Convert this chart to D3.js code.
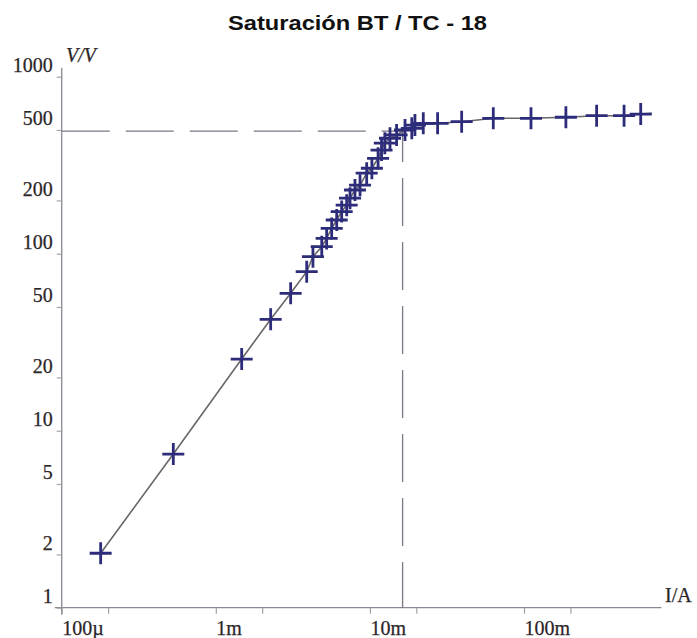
<!DOCTYPE html>
<html>
<head>
<meta charset="utf-8">
<title>Saturación BT / TC - 18</title>
<style>
body, html {
  margin: 0;
  background: white;
}
svg {
  display: block;
}
.tick-label {
  font-family: "Liberation Serif", "DejaVu Serif", serif;
  font-size: 20px;
  fill: #2b2528;
  stroke: #2b2528;
  stroke-width: 0.25px;
}
</style>
</head>
<body>
<script src="https://cdn.jsdelivr.net/npm/d3@7"></script>
<script>
// measured points of the excitation curve (current in A, voltage in V)
var current = [0.000179, 0.000530, 0.001472, 0.00227, 0.00306, 0.00389, 0.00427, 0.00487,
  0.00524, 0.00565, 0.00609, 0.00656, 0.00707, 0.00743, 0.00800, 0.00863, 0.00953, 0.0103,
  0.0113, 0.0119, 0.0125, 0.0135, 0.0149, 0.0169, 0.0187, 0.0196, 0.0222, 0.0275, 0.0394,
  0.0632, 0.111, 0.187, 0.296, 0.446, 0.572];
var voltage = [2.03, 7.38, 25.4, 42.6, 59.7, 79.1, 96.2, 109.5,
  122, 139, 155, 173, 188, 206, 229, 244, 285, 304,
  346, 385, 421, 449, 469, 500, 511, 533, 545, 545, 557,
  582, 582, 590, 602, 602, 615];
// the line runs a little past the last marker
var lineEnd = [0.677, 621];

// knee point (dashed guides)
var knee = [0.0163, 493];

var xTicks = [1e-4, 2e-4, 1e-3, 2e-3, 1e-2, 2e-2, 1e-1, 2e-1];
var xLabels = {"0.0001": "100\u00b5", "0.001": "1m", "0.01": "10m", "0.1": "100m"};
var yTicks = [1, 2, 5, 10, 20, 50, 100, 200, 500, 1000];

var W = 697, H = 638;

var svg = d3.select("body").append("svg")
  .attr("width", W)
  .attr("height", H);

var x = d3.scaleLog().domain([1e-4, 1e-1]).range([61.7, 524]);
var y = d3.scaleLog().domain([1, 1000]).range([607.7, 76.7]);

var axisColor = "#8d8694";

// title
svg.append("text")
  .attr("x", 357.5)
  .attr("y", 30)
  .attr("text-anchor", "middle")
  .attr("textLength", 259)
  .attr("lengthAdjust", "spacingAndGlyphs")
  .style("font-family", "'Liberation Sans', Arial, sans-serif")
  .style("font-weight", "bold")
  .style("font-size", "21px")
  .style("fill", "#111")
  .text("Saturación BT / TC - 18");

// axes lines (drawn a bit past the last ticks like the original)
svg.append("line")
  .attr("x1", x(1e-4)).attr("x2", x(1e-4))
  .attr("y1", y(1000) - 9).attr("y2", y(1) + 7)
  .attr("stroke", axisColor).attr("stroke-width", 1.3);
svg.append("line")
  .attr("x1", x(1e-4) - 7).attr("x2", x(0.78))
  .attr("y1", y(1)).attr("y2", y(1))
  .attr("stroke", axisColor).attr("stroke-width", 1.3);

// y axis ticks + labels
var yAxis = d3.axisLeft(y)
  .tickValues(yTicks)
  .tickSize(5)
  .tickPadding(0)
  .tickFormat(d3.format("d"));
var gy = svg.append("g")
  .attr("transform", "translate(" + x(1e-4) + ",0)")
  .call(yAxis);
gy.select(".domain").remove();
gy.selectAll(".tick line").attr("stroke", "#a49fa8").attr("stroke-width", 1.2);
gy.selectAll(".tick text")
  .attr("class", "tick-label")
  .attr("x", -9)
  .attr("dy", null)
  .attr("y", -5)
  .attr("text-anchor", "end");

// x axis ticks + labels
var xAxis = d3.axisBottom(x)
  .tickValues(xTicks)
  .tickSize(6)
  .tickFormat(function(d) { return xLabels[String(d)] || ""; });
var gx = svg.append("g")
  .attr("transform", "translate(0," + y(1) + ")")
  .call(xAxis);
gx.select(".domain").remove();
gx.selectAll(".tick line").attr("stroke", "#a49fa8").attr("stroke-width", 1.2);
gx.selectAll(".tick text")
  .attr("class", "tick-label")
  .attr("text-anchor", "start")
  .attr("x", 0)
  .attr("dy", null)
  .attr("y", 27);

// axis names
svg.append("text")
  .attr("class", "tick-label")
  .attr("x", 66)
  .attr("y", 62)
  .style("font-style", "italic")
  .text("V/V");
svg.append("text")
  .attr("class", "tick-label")
  .attr("x", 665)
  .attr("y", 602)
  .text("I/A");

// dashed guides through the knee
svg.append("line")
  .attr("x1", x(1e-4)).attr("x2", x(knee[0]))
  .attr("y1", y(knee[1])).attr("y2", y(knee[1]))
  .attr("stroke", "#7d7585").attr("stroke-width", 1.3)
  .attr("stroke-dasharray", "48,16");
svg.append("line")
  .attr("x1", x(knee[0])).attr("x2", x(knee[0]))
  .attr("y1", y(knee[1])).attr("y2", y(1))
  .attr("stroke", "#7d7585").attr("stroke-width", 1.3)
  .attr("stroke-dasharray", "48,16")
  .attr("stroke-dashoffset", 17);

// curve
var pts = current.map(function(c, i) { return [c, voltage[i]]; });
var line = d3.line()
  .x(function(d) { return x(d[0]); })
  .y(function(d) { return y(d[1]); });

svg.append("path")
  .datum(pts.concat([lineEnd]))
  .attr("fill", "none")
  .attr("stroke", "#6a6668")
  .attr("stroke-width", 1.6)
  .attr("d", line);

// cross markers
svg.append("g")
  .selectAll("path")
  .data(pts)
  .enter().append("path")
  .attr("transform", function(d) { return "translate(" + x(d[0]) + "," + y(d[1]) + ")"; })
  .attr("d", "M-11,0H11M0,-11V11")
  .attr("stroke", "#2d2c7a")
  .attr("stroke-width", 2.8)
  .attr("fill", "none");
</script>
</body>
</html>
